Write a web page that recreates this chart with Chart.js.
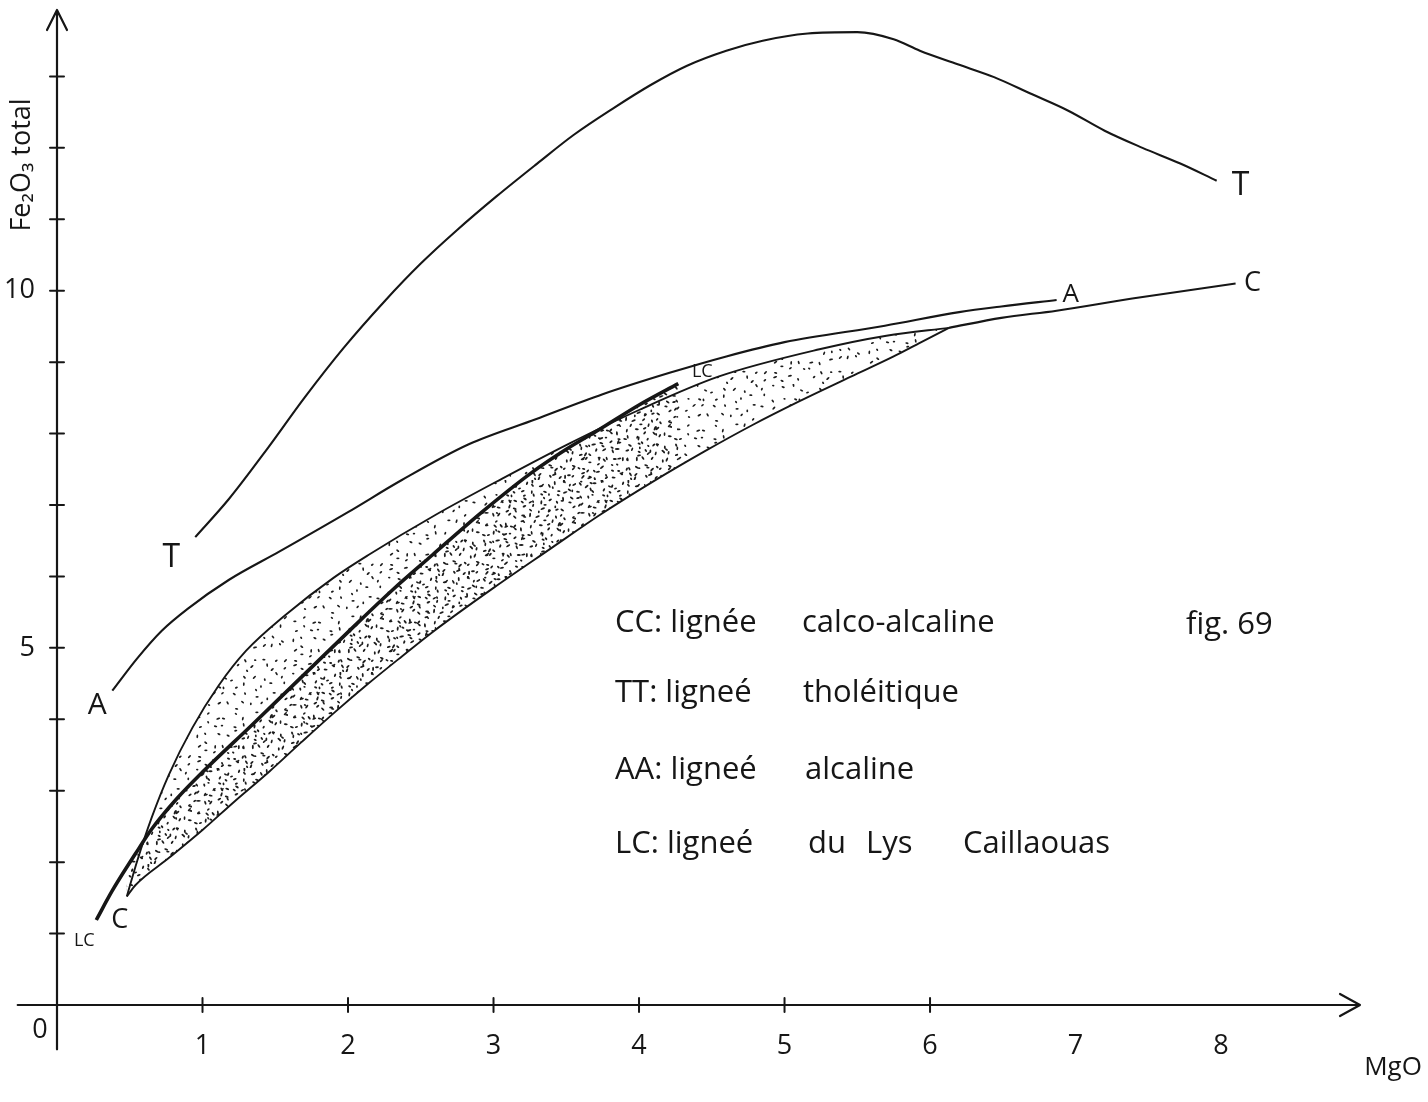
<!DOCTYPE html>
<html>
<head>
<meta charset="utf-8">
<script src="https://cdn.jsdelivr.net/npm/chart.js@4.4.1/dist/chart.umd.min.js"></script>
<style>
  html, body { margin: 0; padding: 0; background: #ffffff; }
  #wrap { width: 1428px; height: 1102px; }
</style>
</head>
<body>
<div id="wrap"><canvas id="c" width="1428" height="1102"></canvas></div>
<script>
// ---------------- DATA ----------------
const xTickLabels = [1, 2, 3, 4, 5, 6, 7, 8];
const xTickMarks  = [1, 2, 3, 4, 5, 6];
const yTickLabels = [5, 10];
const yTickMarks  = [1, 2, 3, 4, 5, 6, 7, 8, 9, 10, 11, 12, 13];

// TT : lignée tholéitique
const tholMgO = [0.95, 1.18, 1.45, 1.70, 1.97, 2.25, 2.50, 2.75, 3.02, 3.30, 3.55, 3.82, 4.08, 4.33, 4.60, 4.85, 5.16, 5.50, 5.75, 5.93, 6.19, 6.44, 6.69, 6.95, 7.20, 7.46, 7.72, 7.97];
const tholFe  = [6.55, 7.08, 7.80, 8.50, 9.20, 9.85, 10.38, 10.85, 11.32, 11.78, 12.18, 12.55, 12.88, 13.15, 13.36, 13.50, 13.60, 13.62, 13.52, 13.36, 13.17, 12.99, 12.76, 12.52, 12.24, 12.00, 11.78, 11.54];

// AA : lignée alcaline
const alkMgO = [0.38, 0.55, 0.72, 0.90, 1.18, 1.53, 2.00, 2.37, 2.83, 3.29, 3.75, 4.21, 4.60, 5.00, 5.69, 6.20, 6.49, 6.87];
const alkFe  = [4.40, 4.85, 5.24, 5.55, 5.95, 6.35, 6.90, 7.35, 7.85, 8.20, 8.55, 8.85, 9.08, 9.28, 9.51, 9.70, 9.78, 9.87];

// CC : lignée calco-alcaline (field = lens, plus its continuation)
const calcMgO = [6.13, 6.49, 6.87, 7.39, 8.10];
const calcFe  = [9.48, 9.62, 9.72, 9.89, 10.10];
const lensUpperMgO = [0.48, 0.55, 0.65, 0.77, 0.93, 1.11, 1.30, 1.57, 1.90, 2.14, 2.60, 3.06, 3.52, 4.00, 4.55, 5.24, 5.70, 6.13];
const lensUpperFe  = [1.52, 2.01, 2.62, 3.23, 3.88, 4.47, 4.96, 5.46, 5.98, 6.30, 6.86, 7.37, 7.86, 8.33, 8.80, 9.18, 9.37, 9.48];
const lensLowerMgO = [0.48, 0.54, 0.77, 1.00, 1.22, 1.46, 1.68, 1.91, 2.14, 2.37, 2.58, 3.00, 3.40, 3.73, 4.09, 4.45, 4.78, 5.10, 5.46, 5.75, 5.92, 6.13];
const lensLowerFe  = [1.52, 1.68, 2.06, 2.45, 2.85, 3.27, 3.68, 4.10, 4.50, 4.88, 5.22, 5.84, 6.40, 6.86, 7.32, 7.75, 8.12, 8.45, 8.80, 9.08, 9.26, 9.48];

// LC : lignée du Lys Caillaouas
const lcMgO = [0.27, 0.38, 0.54, 0.65, 0.82, 1.00, 1.34, 1.68, 2.03, 2.30, 2.58, 2.92, 3.26, 3.50, 3.73, 4.00, 4.27];
const lcFe  = [1.19, 1.60, 2.12, 2.46, 2.88, 3.26, 3.92, 4.59, 5.28, 5.80, 6.30, 6.90, 7.45, 7.78, 8.06, 8.40, 8.70];

const legendRows = [
  ['CC: lignée', ['calco-alcaline']],
  ['TT: ligneé', ['tholéitique']],
  ['AA: ligneé', ['alcaline']],
  ['LC: ligneé', ['du', 'Lys', 'Caillaouas']]
];
const figLabel = 'fig. 69';
const xTitle = 'MgO';
const yTitle = 'Fe₂O₃ total';

// ---------------- helpers ----------------
const zip = (xs, ys) => xs.map((v, i) => ({ x: v, y: ys[i] }));
const INK = '#161616';
const FONT = "'Open Sans', 'DejaVu Sans', sans-serif";
Chart.defaults.font.family = FONT;
Chart.defaults.color = INK;

const mainCtx = document.getElementById('c').getContext('2d');
function fract(v) { return v - Math.floor(v); }
function stipple(size, cols, rx, ry, seed) {
  const c = document.createElement('canvas');
  c.width = c.height = size;
  const g = c.getContext('2d');
  g.fillStyle = '#1c1c1c';
  const step = size / cols;
  for (let i = 0; i < cols; i++) {
    for (let j = 0; j < cols; j++) {
      const h1 = fract(Math.sin((i * 37 + j * 101 + seed) * 12.9898) * 43758.5453);
      const h2 = fract(Math.sin((i * 57 + j * 23 + seed * 3) * 78.233) * 12345.6789);
      const h3 = fract(Math.sin((i * 11 + j * 71 + seed * 7) * 39.425) * 24634.6345);
      const px = (i + 0.1 + h1 * 0.8) * step;
      const py = (j + 0.1 + h2 * 0.8) * step;
      g.beginPath();
      g.ellipse(px, py, rx + h3 * 0.9, ry, h3 * 6.28, 0, Math.PI * 2);
      g.fill();
    }
  }
  return mainCtx.createPattern(c, 'repeat');
}
const lightDots = stipple(96, 10, 1.2, 0.9, 3);
const denseDots = stipple(96, 12, 1.5, 0.95, 9);

// ---------------- decorations plugin (axes, labels) ----------------
const decor = {
  id: 'decor',
  afterDraw(chart) {
    const { ctx, chartArea: ca } = chart;
    const xs = chart.scales.x, ys = chart.scales.y;
    const x0 = xs.getPixelForValue(0), y0 = ys.getPixelForValue(0);
    ctx.save();
    ctx.strokeStyle = INK;
    ctx.fillStyle = INK;
    ctx.lineCap = 'round';
    ctx.lineJoin = 'round';
    ctx.lineWidth = 2.2;

    // y axis with arrow
    ctx.beginPath();
    ctx.moveTo(x0, ys.getPixelForValue(-0.62));
    ctx.lineTo(x0, ca.top);
    ctx.moveTo(x0 - 10, ca.top + 20);
    ctx.lineTo(x0, ca.top);
    ctx.lineTo(x0 + 10, ca.top + 20);
    ctx.stroke();

    // x axis with arrow
    ctx.beginPath();
    ctx.moveTo(xs.getPixelForValue(-0.27), y0);
    ctx.lineTo(ca.right, y0);
    ctx.moveTo(ca.right - 20, y0 - 11);
    ctx.lineTo(ca.right, y0);
    ctx.lineTo(ca.right - 20, y0 + 11);
    ctx.stroke();

    // tick marks crossing the axes
    ctx.lineWidth = 2;
    ctx.beginPath();
    yTickMarks.forEach(v => {
      const p = ys.getPixelForValue(v);
      ctx.moveTo(x0 - 7, p); ctx.lineTo(x0 + 7, p);
    });
    xTickMarks.forEach(v => {
      const p = xs.getPixelForValue(v);
      ctx.moveTo(p, y0 - 7); ctx.lineTo(p, y0 + 7);
    });
    ctx.stroke();

    // origin label
    ctx.font = `27px ${FONT}`;
    ctx.textAlign = 'center';
    ctx.textBaseline = 'middle';
    ctx.fillText('0', x0 - 17, y0 + 25);

    // axis titles
    ctx.font = `26px ${FONT}`;
    ctx.fillText(xTitle, ca.right + 33, y0 + 63);
    ctx.save();
    ctx.translate(22, 165);
    ctx.rotate(-Math.PI / 2);
    ctx.font = `27px ${FONT}`;
    ctx.fillText(yTitle, 0, 0);
    ctx.restore();

    // line end labels
    const byLabel = {};
    chart.data.datasets.forEach((d, i) => { byLabel[d.label] = chart.getDatasetMeta(i).data; });
    const tag = (name, which, text, dx, dy, size) => {
      const pts = byLabel[name];
      const p = which === 'first' ? pts[0] : pts[pts.length - 1];
      ctx.font = `${size}px ${FONT}`;
      ctx.fillText(text, p.x + dx, p.y + dy);
    };
    tag('TT', 'first', 'T', -24, 21, 32);
    tag('TT', 'last', 'T', 24, 5, 32);
    tag('AA', 'first', 'A', -15, 15, 30);
    tag('AA', 'last', 'A', 14, -5, 26);
    tag('lensLower', 'first', 'C', -7, 24, 27);
    tag('CC', 'last', 'C', 17, 0, 27);
    tag('LC', 'first', 'LC', -12, 21, 18);
    tag('LC', 'last', 'LC', 24, -12, 18);

    // legend text
    ctx.textAlign = 'left';
    ctx.textBaseline = 'alphabetic';
    ctx.font = `31px ${FONT}`;
    const baselines = [632, 702, 779, 853];
    const wordX = [[802], [803], [805], [808, 866, 963]];
    legendRows.forEach((r, i) => {
      ctx.fillText(r[0], 615, baselines[i]);
      r[1].forEach((w, k) => ctx.fillText(w, wordX[i][k], baselines[i]));
    });
    ctx.fillText(figLabel, 1186, 634);
    ctx.restore();
  }
};

// ---------------- chart ----------------
const lineBase = {
  showLine: true,
  pointRadius: 0,
  pointHoverRadius: 0,
  borderColor: INK,
  cubicInterpolationMode: 'monotone',
  fill: false
};

new Chart(mainCtx, {
  type: 'scatter',
  data: {
    datasets: [
      Object.assign({}, lineBase, { label: 'LC', data: zip(lcMgO, lcFe), borderWidth: 3.6,
        fill: { target: 5 }, backgroundColor: denseDots }),
      Object.assign({}, lineBase, { label: 'TT', data: zip(tholMgO, tholFe), borderWidth: 2.1 }),
      Object.assign({}, lineBase, { label: 'AA', data: zip(alkMgO, alkFe), borderWidth: 2.1 }),
      Object.assign({}, lineBase, { label: 'CC', data: zip(calcMgO, calcFe), borderWidth: 2.1 }),
      Object.assign({}, lineBase, { label: 'lensUpper', data: zip(lensUpperMgO, lensUpperFe), borderWidth: 1.9,
        fill: '+1', backgroundColor: lightDots }),
      Object.assign({}, lineBase, { label: 'lensLower', data: zip(lensLowerMgO, lensLowerFe), borderWidth: 1.9 })
    ]
  },
  options: {
    responsive: false,
    animation: false,
    devicePixelRatio: 1,
    layout: { padding: { top: 10, right: 68, left: 0, bottom: 0 } },
    plugins: {
      legend: { display: false },
      tooltip: { enabled: false }
    },
    scales: {
      x: {
        type: 'linear',
        min: 0,
        max: 8.955,
        grid: { display: false },
        border: { display: false },
        afterBuildTicks: s => { s.ticks = xTickLabels.map(v => ({ value: v })); },
        afterFit: s => { s.height = 97; s.paddingLeft = 0; s.paddingRight = 0; },
        ticks: { font: { size: 27 }, color: INK, padding: 17, maxRotation: 0,
          callback: v => String(v) }
      },
      y: {
        type: 'linear',
        min: 0,
        max: 13.93,
        grid: { display: false },
        border: { display: false },
        afterBuildTicks: s => { s.ticks = yTickLabels.map(v => ({ value: v })); },
        afterFit: s => { s.width = 57; s.paddingTop = 0; s.paddingBottom = 0; },
        ticks: { font: { size: 27 }, color: INK, padding: 14,
          callback: v => String(v) }
      }
    }
  },
  plugins: [decor]
});
</script>
</body>
</html>
